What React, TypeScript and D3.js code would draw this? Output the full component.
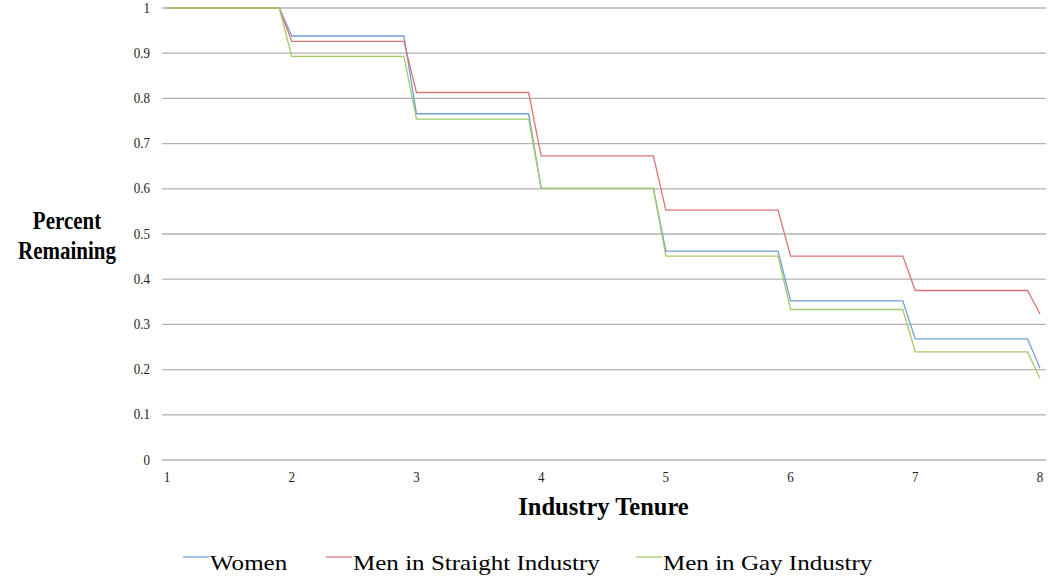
import React from "react";
import * as d3 from "d3";

const tenure = [1, 2, 3, 4, 5, 6, 7, 8];
const women = [1, 0.938, 0.766, 0.601, 0.462, 0.352, 0.268, 0.203];
const menStraight = [1, 0.926, 0.813, 0.673, 0.553, 0.451, 0.375, 0.323];
const menGay = [1, 0.893, 0.754, 0.601, 0.451, 0.333, 0.239, 0.181];
const yTicks = [0, 0.1, 0.2, 0.3, 0.4, 0.5, 0.6, 0.7, 0.8, 0.9, 1];
const seriesNames = ["Women", "Men in Straight Industry", "Men in Gay Industry"];
const seriesColors = ["#6f9fd8", "#df7373", "#a5cb68"];

const W = 1056;
const H = 586;
const FONT = "'Liberation Serif', 'Times New Roman', serif";

export default function App() {
  const x = d3.scaleLinear().domain([1, 8]).range([167, 1040]);
  const y = d3.scaleLinear().domain([0, 1]).range([460, 8]);
  const rampWidth = 0.1;

  const stepPoints = (vals: number[]) => {
    const pts: [number, number][] = [[tenure[0], vals[0]]];
    for (let i = 1; i < vals.length; i++) {
      pts.push([tenure[i] - rampWidth, vals[i - 1]]);
      pts.push([tenure[i], vals[i]]);
    }
    return pts;
  };
  const line = d3
    .line<[number, number]>()
    .x((d) => x(d[0]))
    .y((d) => y(d[1]));

  const series = [women, menStraight, menGay];
  const legendX = [183, 326, 636];

  return (
    <svg
      width={W}
      height={H}
      style={{ position: "absolute", left: 0, top: 0, background: "#fff" }}
      fontFamily={FONT}
    >
      {yTicks.map((t) => (
        <g key={t}>
          <line x1={162} x2={1046} y1={y(t)} y2={y(t)} stroke="#b3b3b3" strokeWidth={1.3} />
          <g transform={`translate(150,${y(t) + 4.5}) scale(1,1.12)`}>
            <text x={0} y={0} textAnchor="end" fontSize={13} fill="#222">
              {d3.format("~g")(t)}
            </text>
          </g>
        </g>
      ))}
      {tenure.map((t) => (
        <g key={t} transform={`translate(${x(t)},482) scale(1,1.12)`}>
          <text x={0} y={0} textAnchor="middle" fontSize={13} fill="#222">
            {t}
          </text>
        </g>
      ))}
      {series.map((s, i) => (
        <path
          key={i}
          d={line(stepPoints(s)) || ""}
          fill="none"
          stroke={seriesColors[i]}
          strokeWidth={1.3}
        />
      ))}
      <g transform="translate(67,229) scale(1,1.15)">
        <text x={0} y={0} textAnchor="middle" fontSize={21} fontWeight="bold" fill="#000">
          Percent
        </text>
      </g>
      <g transform="translate(67,259) scale(1,1.15)">
        <text x={0} y={0} textAnchor="middle" fontSize={21} fontWeight="bold" fill="#000">
          Remaining
        </text>
      </g>
      <text x={603.5} y={514.5} textAnchor="middle" fontSize={24.5} fontWeight="bold" fill="#000">
        Industry Tenure
      </text>
      {seriesNames.map((n, i) => (
        <g key={n}>
          <line
            x1={legendX[i]}
            x2={legendX[i] + 26}
            y1={557}
            y2={557}
            stroke={seriesColors[i]}
            strokeWidth={1.3}
          />
          <g transform={`translate(${legendX[i] + 27},569.5) scale(1.165,1)`}>
            <text x={0} y={0} fontSize={21.5} fill="#000">
              {n}
            </text>
          </g>
        </g>
      ))}
    </svg>
  );
}
